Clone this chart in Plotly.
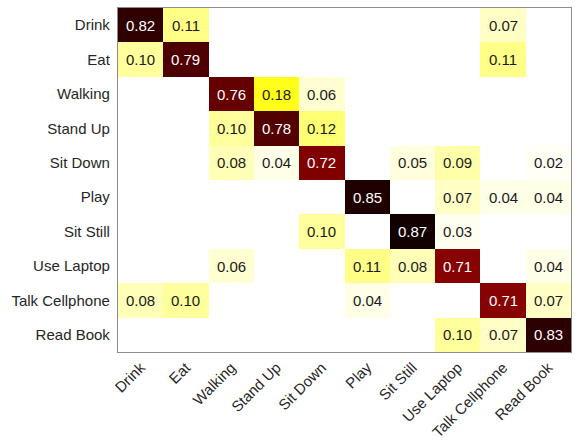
import plotly.graph_objects as go

# Activity classes (rows = true class, columns = predicted class)
classes = ["Drink", "Eat", "Walking", "Stand Up", "Sit Down", "Play",
           "Sit Still", "Use Laptop", "Talk Cellphone", "Read Book"]

# Row-normalised confusion matrix; 0 means the cell is left blank
conf = [
    [0.82, 0.11, 0, 0, 0, 0, 0, 0, 0.07, 0],
    [0.10, 0.79, 0, 0, 0, 0, 0, 0, 0.11, 0],
    [0, 0, 0.76, 0.18, 0.06, 0, 0, 0, 0, 0],
    [0, 0, 0.10, 0.78, 0.12, 0, 0, 0, 0, 0],
    [0, 0, 0.08, 0.04, 0.72, 0, 0.05, 0.09, 0, 0.02],
    [0, 0, 0, 0, 0, 0.85, 0, 0.07, 0.04, 0.04],
    [0, 0, 0, 0, 0.10, 0, 0.87, 0.03, 0, 0],
    [0, 0, 0.06, 0, 0, 0.11, 0.08, 0.71, 0, 0.04],
    [0.08, 0.10, 0, 0, 0, 0.04, 0, 0, 0.71, 0.07],
    [0, 0, 0, 0, 0, 0, 0, 0.10, 0.07, 0.83],
]

ZMAX = 0.87
# Inverted "hot" style colour ramp: white -> yellow -> red -> black
ramp = [
    (0.00, "rgb(255,255,255)"),
    (0.02, "rgb(255,255,246)"),
    (0.04, "rgb(255,255,232)"),
    (0.06, "rgb(255,255,210)"),
    (0.08, "rgb(255,255,184)"),
    (0.10, "rgb(255,255,155)"),
    (0.12, "rgb(255,255,115)"),
    (0.18, "rgb(255,255,25)"),
    (0.35, "rgb(255,150,0)"),
    (0.55, "rgb(230,30,0)"),
    (0.68, "rgb(160,0,0)"),
    (0.71, "rgb(135,2,2)"),
    (0.72, "rgb(128,0,0)"),
    (0.76, "rgb(100,0,0)"),
    (0.78, "rgb(82,0,0)"),
    (0.79, "rgb(78,0,0)"),
    (0.82, "rgb(48,0,0)"),
    (0.83, "rgb(44,0,0)"),
    (0.85, "rgb(30,0,0)"),
    (0.87, "rgb(18,0,0)"),
]
colorscale = [[v / ZMAX, c] for v, c in ramp]

z = [[(v if v > 0 else None) for v in row] for row in conf]

fig = go.Figure(go.Heatmap(
    z=z, x=classes, y=classes,
    zmin=0, zmax=ZMAX, colorscale=colorscale,
    showscale=False, hoverongaps=False,
))

# Value labels: white on the dark diagonal, black elsewhere
for i, row in enumerate(conf):
    for j, v in enumerate(row):
        if v > 0:
            fig.add_annotation(
                x=classes[j], y=classes[i], text=f"{v:.2f}",
                showarrow=False,
                font=dict(size=15, color="white" if v > 0.5 else "#1a1a1a"),
            )

fig.update_layout(
    width=579, height=443,
    margin=dict(l=118, r=8, t=8, b=91),
    paper_bgcolor="white", plot_bgcolor="white",
    font=dict(family="Liberation Sans, Arial, sans-serif", size=15, color="#262626"),
)
fig.update_xaxes(
    tickangle=-45, showgrid=False, zeroline=False, ticks="", automargin=False,
    showline=True, linecolor="#8c8c8c", linewidth=1, mirror=True,
)
fig.update_yaxes(
    autorange="reversed", showgrid=False, zeroline=False, ticks="", automargin=False,
    showline=True, linecolor="#8c8c8c", linewidth=1, mirror=True,
    ticksuffix=" ",
)

fig.write_html("out.html")
